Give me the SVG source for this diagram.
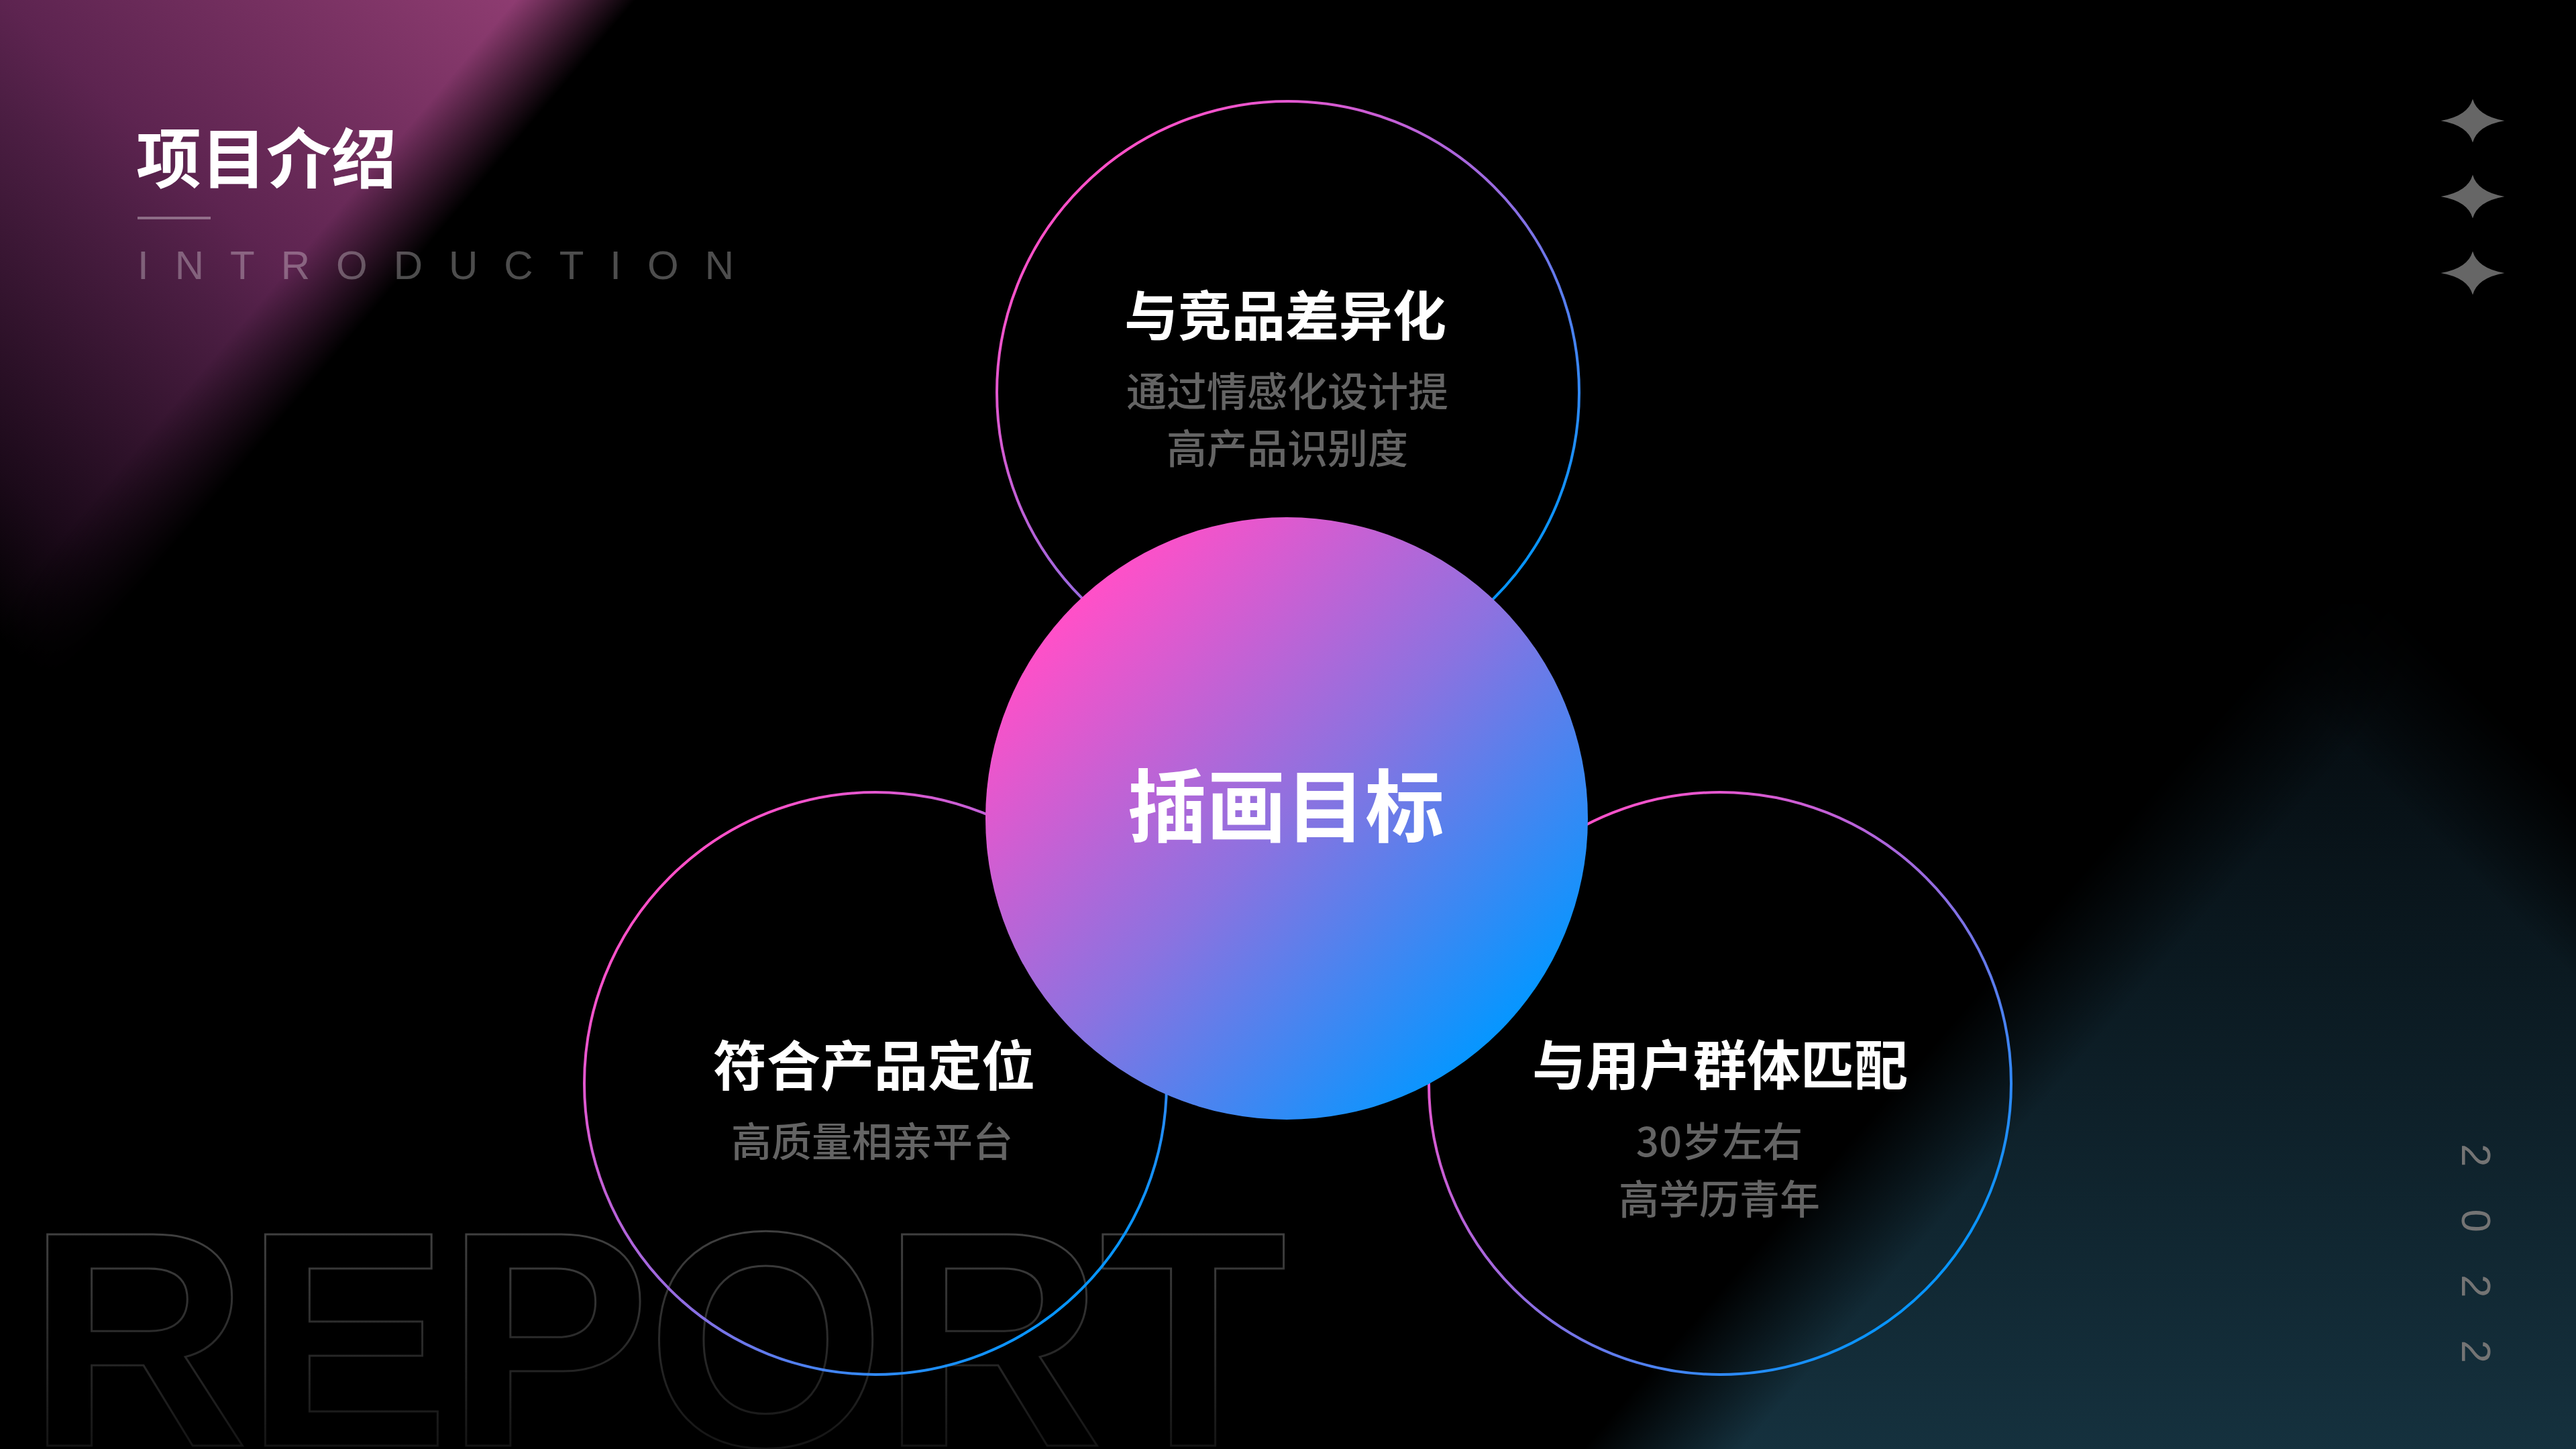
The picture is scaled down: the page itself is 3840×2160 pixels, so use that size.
<svg xmlns="http://www.w3.org/2000/svg" width="3840" height="2160" viewBox="0 0 3840 2160">
  <defs>
    <style>
      .cjk { font-family: "Noto Sans CJK SC", "Noto Sans", sans-serif; }
      .title { font-size: 80px; font-weight: 700; fill: #ffffff; text-anchor: middle; }
      .sub { font-size: 60px; font-weight: 500; fill: #646464; text-anchor: middle; }
      .ring { fill: none; stroke: url(#ringGrad); stroke-width: 4; }
      .star { fill: #666666; }
    </style>
    <linearGradient id="ringGrad" x1="0.15" y1="0.15" x2="0.85" y2="0.85">
      <stop offset="0" stop-color="#ff50c8"/>
      <stop offset="0.5" stop-color="#9a6ae0"/>
      <stop offset="1" stop-color="#0795ff"/>
    </linearGradient>
    <linearGradient id="coreGrad" x1="0.15" y1="0.15" x2="0.85" y2="0.85">
      <stop offset="0" stop-color="#ff50c8"/>
      <stop offset="0.5" stop-color="#8c72e0"/>
      <stop offset="1" stop-color="#0796ff"/>
    </linearGradient>
    <linearGradient id="purpleGlow" gradientUnits="userSpaceOnUse" x1="900" y1="0" x2="0" y2="950">
      <stop offset="0" stop-color="#963f78"/>
      <stop offset="0.1" stop-color="#8a3a6e"/>
      <stop offset="0.47" stop-color="#5d2450"/>
      <stop offset="0.56" stop-color="#4c1e43"/>
      <stop offset="0.86" stop-color="#1c0a1a"/>
      <stop offset="1" stop-color="#000000"/>
    </linearGradient>
    <linearGradient id="purpleEdge" gradientUnits="userSpaceOnUse" x1="808" y1="-46" x2="912" y2="42">
      <stop offset="0" stop-color="#ffffff"/>
      <stop offset="1" stop-color="#000000"/>
    </linearGradient>
    <mask id="purpleMask" maskUnits="userSpaceOnUse" x="0" y="0" width="3840" height="2160">
      <rect x="0" y="0" width="3840" height="2160" fill="url(#purpleEdge)"/>
    </mask>
    <linearGradient id="tealGlow" gradientUnits="userSpaceOnUse" x1="0" y1="1000" x2="0" y2="2160">
      <stop offset="0" stop-color="#050b0f"/>
      <stop offset="0.45" stop-color="#0c1c24"/>
      <stop offset="1" stop-color="#15313e"/>
    </linearGradient>
    <linearGradient id="tealEdgeL" gradientUnits="userSpaceOnUse" x1="3058" y1="1629" x2="2922" y2="1511">
      <stop offset="0" stop-color="#ffffff"/>
      <stop offset="1" stop-color="#000000"/>
    </linearGradient>
    <linearGradient id="tealEdgeR" gradientUnits="userSpaceOnUse" x1="3600" y1="1220" x2="3740" y2="1080">
      <stop offset="0" stop-color="#ffffff"/>
      <stop offset="1" stop-color="#000000"/>
    </linearGradient>
    <mask id="tealMaskL" maskUnits="userSpaceOnUse" x="0" y="0" width="3840" height="2160">
      <rect x="0" y="0" width="3840" height="2160" fill="url(#tealEdgeL)"/>
    </mask>
    <mask id="tealMaskR" maskUnits="userSpaceOnUse" x="0" y="0" width="3840" height="2160">
      <rect x="0" y="0" width="3840" height="2160" fill="url(#tealEdgeR)"/>
    </mask>
    <linearGradient id="reportGrad" gradientUnits="userSpaceOnUse" x1="0" y1="1820" x2="0" y2="2160">
      <stop offset="0" stop-color="#424242"/>
      <stop offset="1" stop-color="#141414"/>
    </linearGradient>
    <path id="starShape" class="star" d="M0,-32.5 Q7,-7 47.5,0 Q7,7 0,32.5 Q-7,7 -47.5,0 Q-7,-7 0,-32.5 Z"/>
  </defs>

  <rect width="3840" height="2160" fill="#000000"/>

  <g id="background">
    <rect x="0" y="0" width="1200" height="1100" fill="url(#purpleGlow)" mask="url(#purpleMask)"/>
    <g mask="url(#tealMaskL)">
      <rect x="2300" y="900" width="1540" height="1260" fill="url(#tealGlow)" mask="url(#tealMaskR)"/>
    </g>
  </g>

  <g id="report-watermark">
    <text x="40" y="2155" font-family="Liberation Sans, Arial, sans-serif" font-weight="700" font-size="458" letter-spacing="-6" fill="none" stroke="url(#reportGrad)" stroke-width="3">REPORT</text>
  </g>

  <g id="header">
    <text class="cjk" x="203" y="272" font-size="97" font-weight="700" fill="#ffffff">项目介绍</text>
    <line x1="205" y1="325" x2="314" y2="325" stroke="#ffffff" stroke-opacity="0.35" stroke-width="4"/>
    <text x="205" y="416" font-family="Liberation Sans, Arial, sans-serif" font-size="60" letter-spacing="39" fill="#ffffff" fill-opacity="0.3">INTRODUCTION</text>
  </g>

  <g id="stars">
    <use href="#starShape" x="3686" y="180"/>
    <use href="#starShape" x="3686" y="293"/>
    <use href="#starShape" x="3686" y="407"/>
  </g>

  <g id="year">
    <text transform="translate(3670,1705) rotate(90)" x="0" y="0" font-family="Liberation Sans, Arial, sans-serif" font-size="62" letter-spacing="63" fill="#747474">2022</text>
  </g>

  <g id="node-top">
    <circle class="ring" cx="1920" cy="585" r="434"/>
    <text class="cjk title" x="1916" y="500">与竞品差异化</text>
    <text class="cjk sub" x="1919" y="606">通过情感化设计提</text>
    <text class="cjk sub" x="1919" y="691">高产品识别度</text>
  </g>

  <g id="node-left">
    <circle class="ring" cx="1305" cy="1615" r="434"/>
    <text class="cjk title" x="1303" y="1618">符合产品定位</text>
    <text class="cjk sub" x="1300" y="1724">高质量相亲平台</text>
  </g>

  <g id="node-right">
    <circle class="ring" cx="2564" cy="1615" r="434"/>
    <text class="cjk title" x="2564" y="1617">与用户群体匹配</text>
    <text class="cjk sub" x="2563" y="1724">30岁左右</text>
    <text class="cjk sub" x="2563" y="1810">高学历青年</text>
  </g>

  <g id="node-center">
    <circle cx="1918" cy="1220" r="449" fill="url(#coreGrad)"/>
    <text class="cjk" x="1917" y="1246" font-size="118" font-weight="700" fill="#ffffff" text-anchor="middle">插画目标</text>
  </g>
</svg>
